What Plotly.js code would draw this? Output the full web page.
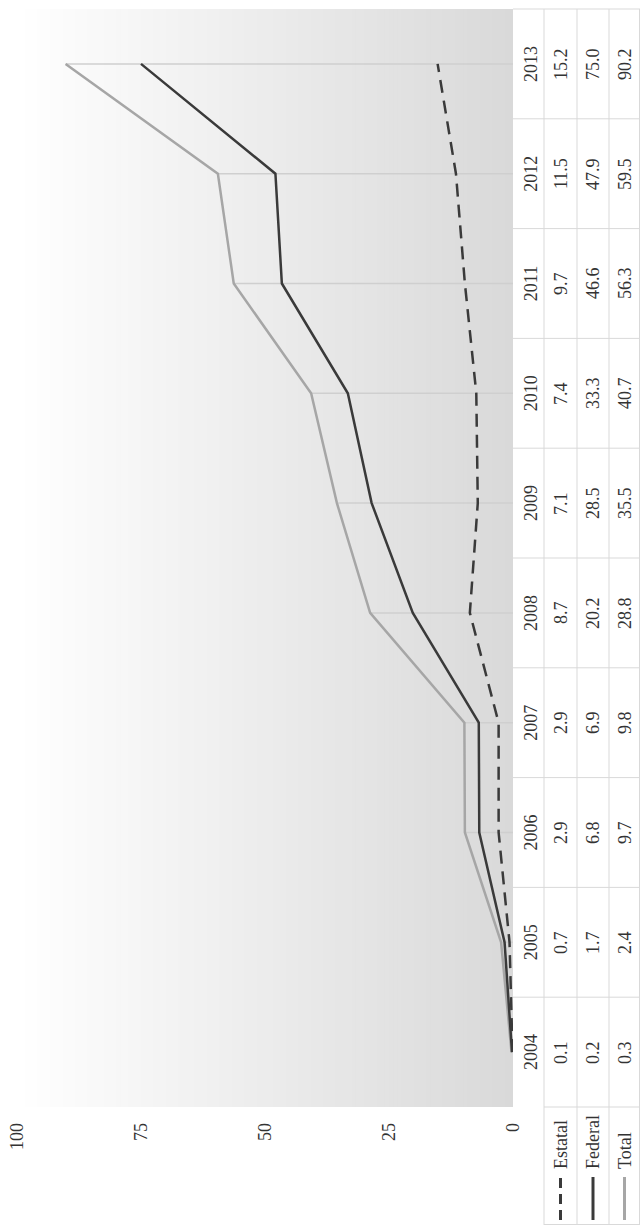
<!DOCTYPE html>
<html>
<head>
<meta charset="utf-8">
<script src="https://cdn.plot.ly/plotly-3.0.1.min.js"></script>
<style>
html,body{margin:0;padding:0;background:#fff;overflow:hidden;width:640px;height:1227px;}
#wrap{position:absolute;left:0;top:0;width:1227px;height:640px;transform-origin:0 0;transform:translate(0px,1227px) rotate(-90deg);}
</style>
</head>
<body>
<div id="wrap"></div>
<script>
// ---- data ----
const years = [2004, 2005, 2006, 2007, 2008, 2009, 2010, 2011, 2012, 2013];
const estatal = [0.1, 0.7, 2.9, 2.9, 8.7, 7.1, 7.4, 9.7, 11.5, 15.2];
const federal = [0.2, 1.7, 6.8, 6.9, 20.2, 28.5, 33.3, 46.6, 47.9, 75.0];
const total = [0.3, 2.4, 9.7, 9.8, 28.8, 35.5, 40.7, 56.3, 59.5, 90.2];
const valueTicks = [0, 25, 50, 75, 100];
const seriesNames = ['Estatal', 'Federal', 'Total'];
const seriesValues = [estatal, federal, total];

// ---- styles / geometry (unrotated frame, 1227 x 640) ----
const W = 1227, H = 640, L = 120, R = 9, T = 17, B = 127;
const pw = W - L - R, ph = H - T - B;
const FONT = 'Liberation Serif, Times New Roman, serif';
const TXT = '#333333';
const BORDER = '#d9d9d9';
const styles = {
  Estatal: {color: '#3a3a3a', width: 2.5, dash: '13px,8px'},
  Federal: {color: '#3a3a3a', width: 2.5, dash: 'solid'},
  Total:   {color: '#a6a6a6', width: 2.5, dash: 'solid'}
};
function px(nx) { return (nx - L) / pw; }
function py(ny) { return (H - B - ny) / ph; }
const rowCenters = [560.5, 593, 624.5];

// ---- traces ----
const traces = [];
[2, 1, 0].forEach(function (k) {
  const nm = seriesNames[k];
  traces.push({
    type: 'scatter', mode: 'lines', name: nm,
    x: years, y: seriesValues[k],
    line: {color: styles[nm].color, width: styles[nm].width, dash: styles[nm].dash},
    showlegend: false, hoverinfo: 'skip'
  });
});

// ---- shapes ----
const shapes = [];
// gradient background of the plot area
const N = 120;
const c0 = [217, 217, 217], c1 = [255, 255, 255];
for (let i = 0; i < N; i++) {
  const t = (i + 0.5) / N;
  const c = c0.map(function (v, j) { return Math.round(v + (c1[j] - v) * t); });
  shapes.push({type: 'rect', xref: 'paper', yref: 'paper', x0: 0, x1: 1,
    y0: i / N, y1: Math.min(1, (i + 1) / N + 0.003), layer: 'below',
    fillcolor: 'rgb(' + c.join(',') + ')', line: {width: 0}});
}
// drop lines
years.forEach(function (yr, i) {
  const top = Math.max(estatal[i], federal[i], total[i]);
  shapes.push({type: 'line', xref: 'x', yref: 'y', x0: yr, x1: yr, y0: 0, y1: top,
    layer: 'below', line: {color: '#cfcfcf', width: 1.5}});
});
// table horizontal borders
[544, 577, 609, 639.5].forEach(function (ny) {
  shapes.push({type: 'line', xref: 'paper', yref: 'paper', x0: px(2), x1: 1, y0: py(ny), y1: py(ny),
    line: {color: BORDER, width: 1}});
});
// table vertical borders
for (let k = 0; k <= years.length; k++) {
  const startY = (k === 0) ? 544 : 513;
  shapes.push({type: 'line', xref: 'paper', yref: 'paper', x0: k / years.length, x1: k / years.length,
    y0: py(startY), y1: py(640), line: {color: BORDER, width: 1}});
}
shapes.push({type: 'line', xref: 'paper', yref: 'paper', x0: px(2.5), x1: px(2.5),
  y0: py(544), y1: py(640), line: {color: BORDER, width: 1}});
// legend samples
seriesNames.forEach(function (nm, k) {
  shapes.push({type: 'line', xref: 'paper', yref: 'paper', x0: px(7), x1: px(50),
    y0: py(rowCenters[k]), y1: py(rowCenters[k]),
    line: {color: styles[nm].color, width: 3, dash: (nm === 'Estatal') ? '10px,6px' : 'solid'}});
});

// ---- annotations (data table) ----
const annotations = [];
seriesNames.forEach(function (nm, k) {
  annotations.push({xref: 'paper', yref: 'paper', x: px(56), y: py(rowCenters[k]),
    xanchor: 'left', yanchor: 'middle', showarrow: false, text: nm,
    font: {family: FONT, size: 18, color: TXT}});
  seriesValues[k].forEach(function (v, i) {
    annotations.push({xref: 'x', yref: 'paper', x: years[i], y: py(rowCenters[k]),
      xanchor: 'center', yanchor: 'middle', showarrow: false, text: v.toFixed(1),
      font: {family: FONT, size: 18, color: TXT}});
  });
});

const layout = {
  width: W, height: H,
  margin: {l: L, r: R, t: T, b: B, pad: 0},
  paper_bgcolor: '#ffffff', plot_bgcolor: '#ffffff',
  font: {family: FONT, size: 18, color: TXT},
  showlegend: false,
  xaxis: {range: [years[0] - 0.5, years[years.length - 1] + 0.5],
    tickvals: years, ticktext: years.map(String),
    tickfont: {family: FONT, size: 18, color: TXT},
    showgrid: false, zeroline: false, showline: false, ticks: '', ticklabelstandoff: 5},
  yaxis: {range: [0, 100], tickvals: valueTicks, ticktext: valueTicks.map(String),
    tickfont: {family: FONT, size: 18, color: TXT},
    showgrid: false, zeroline: false, showline: false, ticks: '', ticklabelstandoff: 15},
  shapes: shapes,
  annotations: annotations
};

Plotly.newPlot('wrap', traces, layout, {staticPlot: true, displayModeBar: false});
</script>
</body>
</html>
